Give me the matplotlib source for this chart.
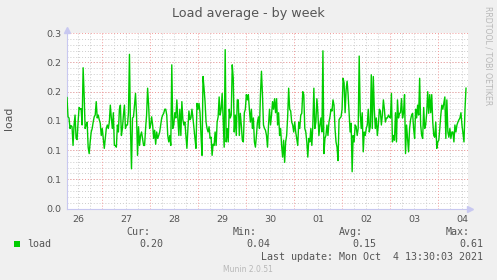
import numpy as np
import matplotlib
matplotlib.use("Agg")
import matplotlib.pyplot as plt
from matplotlib.patches import Rectangle

# ---------------- data ----------------
# load values, one sample every ~30 minutes
load = [
    0.19, 0.157, 0.155, 0.137, 0.142, 0.14, 0.108, 0.143, 0.16, 0.12, 0.118, 0.148, 0.173, 0.17, 0.171,
    0.143, 0.241, 0.195, 0.137, 0.143, 0.148, 0.105, 0.094, 0.114, 0.131, 0.137, 0.148, 0.157, 0.16,
    0.183, 0.155, 0.16, 0.152, 0.146, 0.125, 0.137, 0.12, 0.103, 0.12, 0.137, 0.143, 0.137, 0.148,
    0.177, 0.155, 0.137, 0.164, 0.108, 0.108, 0.105, 0.143, 0.131, 0.17, 0.177,
    # crop 2
    0.125, 0.137, 0.16, 0.177, 0.137, 0.143, 0.143, 0.164, 0.264, 0.137, 0.068, 0.155, 0.157, 0.177,
    0.197, 0.16, 0.091, 0.14, 0.108, 0.125, 0.131, 0.12, 0.108, 0.108, 0.137, 0.16, 0.206, 0.177,
    0.137, 0.143, 0.157, 0.143, 0.12, 0.134, 0.11, 0.131, 0.12, 0.125, 0.131, 0.143, 0.155, 0.16,
    0.163, 0.17, 0.17, 0.16, 0.125, 0.114, 0.125, 0.108, 0.246, 0.137, 0.143, 0.164, 0.155, 0.186,
    0.155, 0.125,
    # crop 3
    0.17, 0.125, 0.183, 0.152, 0.143, 0.148, 0.125, 0.103, 0.137, 0.167, 0.152, 0.155, 0.17, 0.155,
    0.137, 0.12, 0.103, 0.18, 0.17, 0.18, 0.164, 0.125, 0.091, 0.226, 0.206, 0.183, 0.148, 0.137,
    0.131, 0.14, 0.12, 0.122, 0.091, 0.11, 0.108, 0.131, 0.108, 0.148, 0.157, 0.191, 0.16, 0.17,
    0.197, 0.152, 0.105, 0.272, 0.114, 0.137, 0.114, 0.17, 0.155, 0.16, 0.246, 0.223, 0.131, 0.16,
    0.125, 0.186,
    # crop 4
    0.186, 0.125, 0.163, 0.143, 0.117, 0.114, 0.164, 0.17, 0.195, 0.186, 0.195, 0.17, 0.148, 0.17,
    0.137, 0.155, 0.114, 0.105, 0.125, 0.148, 0.157, 0.137, 0.195, 0.235, 0.195, 0.143, 0.137, 0.134,
    0.125, 0.105, 0.143, 0.17, 0.143, 0.16, 0.183, 0.17, 0.188, 0.164, 0.188, 0.143, 0.164, 0.125,
    0.137, 0.108, 0.088, 0.117, 0.079, 0.114, 0.125, 0.157, 0.206, 0.17, 0.167, 0.148, 0.143, 0.131,
    0.148, 0.131,
    # crop 5
    0.12, 0.108, 0.148, 0.137, 0.16, 0.163, 0.20, 0.195, 0.137, 0.131, 0.114, 0.088, 0.12, 0.114,
    0.137, 0.108, 0.143, 0.206, 0.137, 0.148, 0.188, 0.164, 0.125, 0.143, 0.155, 0.131, 0.27, 0.094,
    0.12, 0.125, 0.143, 0.125, 0.148, 0.157, 0.17, 0.167, 0.186, 0.177, 0.137, 0.114, 0.105, 0.082,
    0.152, 0.155, 0.157, 0.17, 0.223, 0.215, 0.164, 0.203, 0.218, 0.195, 0.163, 0.131, 0.146, 0.063,
    0.125, 0.114,
    # crop 6
    0.143, 0.14, 0.125, 0.137, 0.261, 0.164, 0.137, 0.164, 0.097, 0.131, 0.125, 0.137, 0.143, 0.17,
    0.131, 0.14, 0.229, 0.137, 0.226, 0.17, 0.137, 0.155, 0.125, 0.143, 0.17, 0.167, 0.143, 0.16,
    0.186, 0.17, 0.148, 0.155, 0.155, 0.16, 0.157, 0.155, 0.197, 0.114, 0.125, 0.117, 0.164, 0.114,
    0.186, 0.155, 0.163, 0.164, 0.188, 0.155, 0.164, 0.195, 0.094, 0.143, 0.12, 0.097, 0.137, 0.152,
    0.16, 0.163,
    # crop 7
    0.137, 0.12, 0.17, 0.155, 0.177, 0.16, 0.223, 0.143, 0.125, 0.12, 0.173, 0.137, 0.143, 0.164,
    0.20, 0.163, 0.195, 0.164, 0.195, 0.148, 0.125, 0.122, 0.148, 0.103, 0.114, 0.117, 0.137, 0.16,
    0.177, 0.17, 0.18, 0.191, 0.12, 0.186, 0.131, 0.122, 0.137, 0.12, 0.131, 0.131, 0.114, 0.143,
    0.131, 0.143, 0.148, 0.152, 0.155, 0.164, 0.143, 0.128, 0.114, 0.17, 0.206,
]
# time axis: hours since Sep 26 00:00
t_first = 6.5
t_last = 206.0
hours = np.linspace(t_first, t_last, len(load))

day_labels = ["26", "27", "28", "29", "30", "01", "02", "03", "04"]
y_ticks = [0.0, 0.05, 0.10, 0.15, 0.20, 0.25, 0.30]

cur_v, min_v, avg_v, max_v = "0.20", "0.04", "0.15", "0.61"

# ---------------- figure ----------------
W, H = 497, 280
fig = plt.figure(figsize=(W / 100, H / 100), dpi=100, facecolor="#f0f0f0")

def fx(px):
    return px / W

def fy(py):
    return 1 - py / H

x0, x1 = 66.7, 468.0
y_top, y_bot = 33.3, 208.5
ax = fig.add_axes([fx(x0), fy(y_bot), fx(x1) - fx(x0), fy(y_top) - fy(y_bot)])
ax.set_facecolor("white")

xmin, xmax = 6.35, 207.0
ax.set_xlim(xmin, xmax)
ax.set_ylim(0, 0.30)

# grid
minor_x = np.arange(6, 208, 6)
major_x = np.arange(24, 208, 24)
for xv in minor_x:
    if xv % 24:
        ax.axvline(xv, color="#cccccc", lw=0.7, ls=(0, (1, 2)), zorder=1)
for yv in np.arange(0.01, 0.30, 0.01):
    ax.axhline(yv, color="#cccccc", lw=0.7, ls=(0, (1, 2)), zorder=1)
for xv in major_x:
    ax.axvline(xv, color="#f29a9a", lw=0.7, ls=(0, (1, 2)), zorder=2)
for yv in y_ticks[1:]:
    ax.axhline(yv, color="#f29a9a", lw=0.7, ls=(0, (1, 2)), zorder=2)

ax.plot(hours, load, color="#00cc00", lw=1.0, zorder=3)

# ticks
label_pos = [12 + 24 * i for i in range(len(day_labels))]
ax.set_xticks(label_pos)
ax.set_xticklabels(day_labels)
ax.set_yticks(y_ticks)
ax.set_yticklabels(["%.1f" % v for v in y_ticks])
ax.tick_params(axis="both", length=0, labelsize=6.8, colors="#555555", pad=4)
ax.tick_params(axis="x", pad=5)

for s in ["top", "right"]:
    ax.spines[s].set_visible(False)
for s in ["left", "bottom"]:
    ax.spines[s].set_color("#c8c8f0")
    ax.spines[s].set_linewidth(0.8)

# axis arrows
ax.plot([1.006], [0], marker=">", ms=4, color="#c8c8f0", transform=ax.transAxes, clip_on=False)
ax.plot([0], [1.02], marker="^", ms=4, color="#c8c8f0", transform=ax.transAxes, clip_on=False)

# texts
fig.text(fx(248), fy(13), "Load average - by week", ha="center", va="center",
         fontsize=9.2, color="#555555")
fig.text(fx(9), fy(118), "load", rotation=90, ha="center", va="center",
         fontsize=7.8, color="#555555")
fig.text(fx(488), fy(56), "RRDTOOL / TOBI OETIKER", rotation=270, ha="center", va="center",
         fontsize=5.6, color="#b8b8b8")

mono = "DejaVu Sans Mono"
fs = 7.2
tc = "#555555"
fig.patches.append(Rectangle((fx(14), fy(247)), fx(6), 6 / H, transform=fig.transFigure,
                             facecolor="#00cc00", edgecolor="none"))
fig.text(fx(27), fy(244), "load", family=mono, fontsize=fs, color=tc, va="center")
for right, head, val in [(150, "Cur:", cur_v), (257, "Min:", min_v),
                         (363, "Avg:", avg_v), (470, "Max:", max_v)]:
    fig.text(fx(right), fy(232), head, family=mono, fontsize=fs, color=tc, va="center", ha="right")
    fig.text(fx(right + 13), fy(244), val, family=mono, fontsize=fs, color=tc, va="center", ha="right")
fig.text(fx(483), fy(257), "Last update: Mon Oct  4 13:30:03 2021", family=mono, fontsize=fs,
         color=tc, va="center", ha="right")
fig.text(fx(248), fy(269), "Munin 2.0.51", fontsize=5.5, color="#b8b8b8", ha="center", va="center")

fig.savefig("out.png", dpi=100, facecolor=fig.get_facecolor())
